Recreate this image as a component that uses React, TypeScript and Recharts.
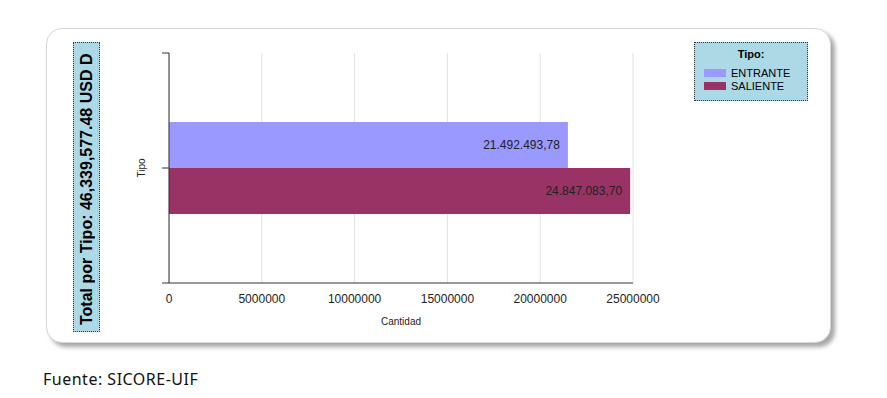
import React from "react";
import {
  BarChart,
  Bar,
  XAxis,
  YAxis,
  CartesianGrid,
  LabelList,
} from "recharts";

const categories = ["Tipo"];
const entranteValues = [21492493.78];
const salienteValues = [24847083.7];
const xTicks = [0, 5000000, 10000000, 15000000, 20000000, 25000000];
const seriesNames = ["ENTRANTE", "SALIENTE"];
const seriesColors = ["#9999FF", "#993366"];
const totalText = "Total por Tipo: 46,339,577.48 USD D";
const sourceText = "Fuente: SICORE-UIF";

const data = categories.map((c, i) => ({
  tipo: c,
  ENTRANTE: entranteValues[i],
  SALIENTE: salienteValues[i],
}));

function fmtEs(v: number): string {
  const fixed = v.toFixed(2);
  const [intPart, dec] = fixed.split(".");
  const grouped = intPart.replace(/\B(?=(\d{3})+(?!\d))/g, ".");
  return grouped + "," + dec;
}

const FONT = "'Liberation Sans', Arial, sans-serif";
const Y_TICK_SIZE = 7;
const Y_TICK_MARGIN = 2;

function CategoryTick(props: any) {
  const { x, y, height } = props;
  if (typeof height !== "number" || typeof x !== "number") return null;
  const x1 = x + Y_TICK_MARGIN;
  const x2 = x1 + Y_TICK_SIZE;
  const half = height / 2;
  return (
    <g>
      <line x1={x1} x2={x2} y1={y - half} y2={y - half} stroke="#333333" />
      <line x1={x1} x2={x2} y1={y + half} y2={y + half} stroke="#333333" />
    </g>
  );
}

export default function App() {
  return (
    <div
      style={{
        position: "absolute",
        left: 0,
        top: 0,
        width: 887,
        height: 398,
        background: "#ffffff",
        fontFamily: FONT,
      }}
    >
      <div
        style={{
          position: "absolute",
          left: 46,
          top: 28,
          width: 783,
          height: 313,
          borderRadius: 16,
          border: "1px solid #d6d6d6",
          boxShadow: "4px 4px 4px rgba(0,0,0,0.35)",
          background: "#ffffff",
        }}
      />
      <div style={{ position: "absolute", left: 0, top: 0 }}>
        <BarChart
          width={887}
          height={398}
          data={data}
          layout="vertical"
          margin={{ top: 53, right: 254, bottom: 70, left: 139 }}
          barCategoryGap="30%"
          barGap={0}
        >
          <CartesianGrid horizontal={false} vertical={true} stroke="#e2e2e2" />
          <XAxis
            type="number"
            domain={[0, 25000000]}
            ticks={xTicks}
            interval={0}
            tickLine={false}
            tickSize={6}
            tickMargin={5}
            axisLine={{ stroke: "#333333" }}
            height={45}
            tick={{ fill: "#222222", fontSize: 12, fontFamily: FONT }}
            label={{
              value: "Cantidad",
              position: "insideBottom",
              offset: 3,
              fill: "#222222",
              fontSize: 10,
              fontFamily: FONT,
            }}
          />
          <YAxis
            type="category"
            dataKey="tipo"
            width={30}
            axisLine={{ stroke: "#333333" }}
            tickLine={{ stroke: "#333333" }}
            tickSize={Y_TICK_SIZE}
            tickMargin={Y_TICK_MARGIN}
            tick={<CategoryTick />}
            label={{
              value: "Tipo",
              content: (props: any) => {
                const vb = props.viewBox || {};
                const cx = vb.x + 2;
                const cy = vb.y + vb.height / 2;
                return (
                  <text
                    x={cx}
                    y={cy}
                    transform={`rotate(-90, ${cx}, ${cy})`}
                    textAnchor="middle"
                    dominantBaseline="central"
                    fill="#222222"
                    fontSize={10}
                    fontFamily={FONT}
                  >
                    Tipo
                  </text>
                );
              },
            }}
          />
          {seriesNames.map((name, i) => (
            <Bar
              key={name}
              dataKey={name}
              fill={seriesColors[i]}
              isAnimationActive={false}
            >
              <LabelList
                dataKey={name}
                position="insideRight"
                offset={8}
                fill="#222222"
                fontSize={12}
                fontFamily={FONT}
                formatter={(v: any) => fmtEs(Number(v))}
              />
            </Bar>
          ))}
        </BarChart>
      </div>
      <div
        style={{
          position: "absolute",
          left: 73,
          top: 42,
          width: 27,
          height: 290,
          background: "#ADD8E6",
          border: "1px dotted #333333",
          boxSizing: "border-box",
          overflow: "hidden",
        }}
      >
        <div
          style={{
            position: "absolute",
            left: 0,
            bottom: 6,
            width: 25,
            height: 300,
            writingMode: "vertical-rl",
            transform: "rotate(180deg)",
            fontWeight: "bold",
            fontSize: 16,
            lineHeight: "25px",
            color: "#000",
            whiteSpace: "nowrap",
            fontFamily: FONT,
          }}
        >
          {totalText}
        </div>
      </div>
      <div
        style={{
          position: "absolute",
          left: 694,
          top: 42,
          width: 114,
          height: 59,
          background: "#ADD8E6",
          border: "1px dotted #333333",
          boxSizing: "border-box",
          fontFamily: FONT,
        }}
      >
        <div
          style={{
            position: "absolute",
            left: 0,
            top: 5,
            width: 112,
            textAlign: "center",
            fontWeight: "bold",
            fontSize: 11,
            color: "#000",
          }}
        >
          Tipo:
        </div>
        {seriesNames.map((name, i) => (
          <div
            key={name}
            style={{
              position: "absolute",
              left: 9,
              top: 23 + i * 13,
              height: 13,
              display: "flex",
              alignItems: "center",
            }}
          >
            <div
              style={{
                width: 22,
                height: 8,
                background: seriesColors[i],
                marginRight: 5,
              }}
            />
            <span style={{ fontSize: 11, color: "#000" }}>{name}</span>
          </div>
        ))}
      </div>
      <div
        style={{
          position: "absolute",
          left: 43,
          top: 368,
          fontFamily: "'Noto Sans', sans-serif",
          fontSize: 16,
          letterSpacing: 0.5,
          color: "#111",
          whiteSpace: "nowrap",
        }}
      >
        {sourceText}
      </div>
    </div>
  );
}
